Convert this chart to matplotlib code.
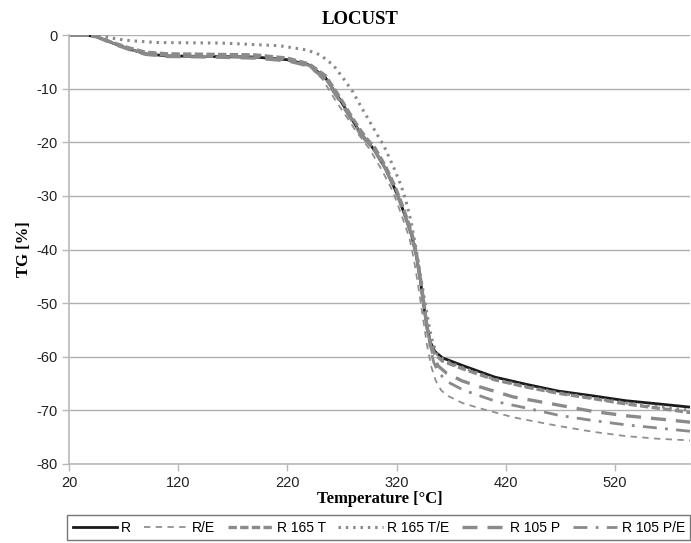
import matplotlib
matplotlib.use("Agg")
import matplotlib.pyplot as plt

plt.rcParams["axes.unicode_minus"] = False

# Data
T_R   = [20, 35, 45, 60, 75, 90, 110, 150, 190, 220, 240, 255, 268, 277, 286, 293, 300, 310, 318, 323, 330, 334, 338, 342, 345, 348, 351, 355, 362, 380, 410, 440, 468, 500, 530, 560, 589]
TG_R  = [0, 0, -0.3, -1.5, -2.6, -3.5, -3.9, -4.0, -4.1, -4.6, -5.6, -8.0, -12.0, -15.0, -18.0, -19.8, -21.5, -25.0, -28.5, -31.0, -35.0, -37.5, -41.0, -46.0, -50.5, -54.5, -57.3, -59.0, -60.2, -61.6, -63.8, -65.2, -66.4, -67.3, -68.2, -68.8, -69.4]

T_RE  = [20, 35, 45, 60, 75, 90, 110, 150, 190, 220, 240, 252, 265, 275, 283, 290, 296, 306, 315, 320, 327, 332, 336, 340, 344, 348, 352, 356, 361, 368, 380, 396, 427, 468, 500, 530, 560, 589]
TG_RE = [0, 0, -0.3, -1.5, -2.6, -3.5, -3.9, -4.0, -4.1, -4.6, -5.8, -8.2, -12.5, -15.5, -18.0, -19.8, -21.5, -25.0, -28.5, -31.0, -35.0, -38.0, -42.0, -47.0, -52.5, -58.0, -62.0, -64.5, -66.3, -67.4, -68.6, -69.6, -71.3, -72.9, -74.0, -74.8, -75.3, -75.6]

T_165T  = [20, 35, 45, 60, 75, 90, 110, 150, 190, 220, 240, 255, 268, 277, 286, 293, 300, 310, 318, 323, 330, 334, 338, 342, 345, 348, 351, 355, 362, 380, 410, 440, 468, 500, 530, 560, 589]
TG_165T = [0, 0, -0.3, -1.4, -2.4, -3.2, -3.5, -3.6, -3.7, -4.3, -5.4, -7.6, -11.6, -14.6, -17.5, -19.4, -21.0, -24.5, -28.0, -30.5, -34.5, -37.0, -40.5, -45.5, -50.0, -54.5, -57.5, -59.5, -60.8, -62.2, -64.3, -65.7, -66.8, -67.8, -68.8, -69.6, -70.4]

T_165TE  = [20, 35, 45, 60, 73, 100, 160, 213, 238, 250, 262, 271, 280, 287, 295, 302, 308, 317, 324, 328, 333, 338, 342, 347, 350, 353, 357, 364, 380, 410, 440, 468, 500, 530, 560, 589]
TG_165TE = [0, 0, -0.1, -0.6, -1.0, -1.4, -1.5, -2.0, -2.8, -3.7, -5.6, -8.0, -10.6, -13.2, -16.0, -18.5, -20.5, -24.5, -28.0, -30.5, -34.5, -40.0, -45.0, -51.0, -54.5, -57.3, -59.5, -60.7, -62.0, -64.2, -65.6, -66.7, -67.7, -68.6, -69.3, -70.0]

T_105P  = [20, 35, 45, 60, 75, 90, 110, 150, 190, 220, 240, 255, 268, 277, 286, 293, 300, 310, 318, 323, 330, 334, 338, 342, 345, 348, 351, 354, 358, 366, 380, 396, 427, 468, 500, 530, 560, 589]
TG_105P = [0, 0, -0.3, -1.6, -2.7, -3.6, -4.0, -4.1, -4.3, -4.8, -5.8, -8.3, -12.3, -15.2, -18.2, -20.0, -21.6, -25.0, -28.5, -31.0, -35.0, -37.5, -41.0, -46.0, -50.5, -54.5, -57.8, -60.0, -61.7, -63.1, -64.5, -65.6, -67.5, -69.0, -70.2, -71.0, -71.6, -72.2]

T_105PE  = [20, 35, 45, 60, 75, 90, 110, 150, 190, 220, 240, 255, 268, 277, 286, 293, 300, 310, 318, 323, 330, 334, 338, 342, 345, 348, 351, 354, 358, 366, 381, 412, 442, 468, 500, 530, 560, 589]
TG_105PE = [0, 0, -0.3, -1.5, -2.6, -3.5, -3.9, -4.0, -4.2, -4.7, -5.7, -8.1, -12.2, -15.1, -18.1, -19.9, -21.5, -25.0, -28.5, -31.0, -35.0, -37.5, -41.0, -46.0, -50.5, -55.0, -58.5, -61.0, -62.8, -64.6, -66.2, -68.4, -69.7, -70.9, -71.9, -72.7, -73.3, -73.9]

labels = ["R", "R/E", "R 165 T", "R 165 T/E", "R 105 P", "R 105 P/E"]
x_ticks = [20, 120, 220, 320, 420, 520]
y_ticks = [0, -10, -20, -30, -40, -50, -60, -70, -80]

fig = plt.figure(figsize=(6.91, 5.43), dpi=100)
ax = fig.add_axes([0.0999, 0.1455, 0.899, 0.79])

grey = "#8a8a8a"
ax.plot(T_R, TG_R, color="#1a1a1a", lw=2.0, label=labels[0])
ax.plot(T_RE, TG_RE, color="#909090", lw=1.3, linestyle=(0, (3.5, 3)), label=labels[1])
ax.plot(T_165T, TG_165T, color=grey, lw=2.4, linestyle=(0, (2.5, 1)), label=labels[2])
ax.plot(T_165TE, TG_165TE, color=grey, lw=2.2, linestyle=(0, (0.8, 1.6)), label=labels[3])
ax.plot(T_105P, TG_105P, color=grey, lw=2.4, linestyle=(0, (4.5, 3)), label=labels[4])
ax.plot(T_105PE, TG_105PE, color=grey, lw=2.0, linestyle=(0, (5, 3, 1, 3)), label=labels[5])

ax.set_xlim(20, 589)
ax.set_ylim(-80, 0)
ax.set_xticks(x_ticks)
ax.set_yticks(y_ticks)
ax.yaxis.grid(True, color="#b0b0b0", lw=1.0)
ax.set_axisbelow(True)
for s in ["top", "right"]:
    ax.spines[s].set_visible(False)
for s in ["left", "bottom"]:
    ax.spines[s].set_color("#b8b8b8")
    ax.spines[s].set_linewidth(1.2)
ax.tick_params(axis="both", colors="#b8b8b8", length=5, width=1.0, labelcolor="#222222",
               labelsize=10.5, direction="out")
for lab in ax.get_xticklabels() + ax.get_yticklabels():
    lab.set_family("Liberation Sans")

ax.set_title("LOCUST", fontfamily="Liberation Serif", fontweight="bold", fontsize=13.5, pad=8, x=0.469)
ax.set_xlabel("Temperature [°C]", fontfamily="Liberation Serif", fontweight="bold", fontsize=12, labelpad=1)
ax.set_ylabel("TG [%]", fontfamily="Liberation Serif", fontweight="bold", fontsize=12, labelpad=3)

leg = fig.legend(loc="lower left", bbox_to_anchor=(0.097, 0.005, 0.902, 0.044), mode="expand",
                 ncol=6, frameon=True, fancybox=False, edgecolor="#555555", handlelength=3.2,
                 handletextpad=0.3, columnspacing=0.8, borderaxespad=0,
                 prop={"family": "Liberation Sans", "size": 10})
leg.get_frame().set_linewidth(1.0)

fig.savefig("out.png", dpi=100)
